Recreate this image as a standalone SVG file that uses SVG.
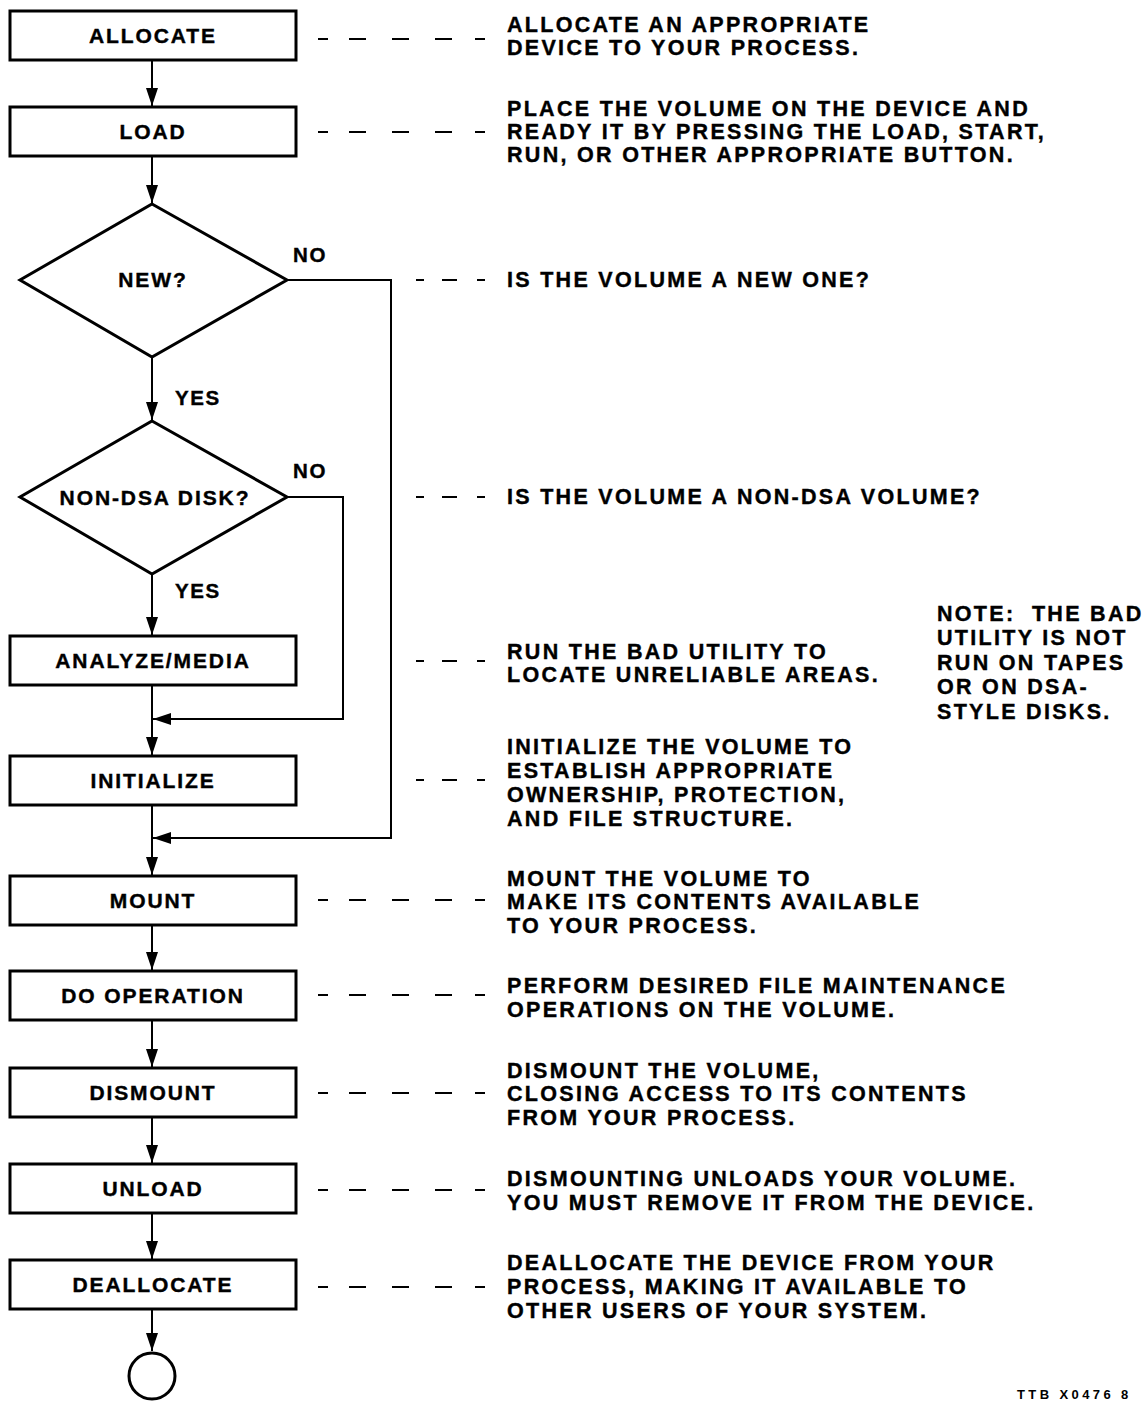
<svg xmlns="http://www.w3.org/2000/svg" width="1144" height="1402" viewBox="0 0 1144 1402">
  <style>
    .box { fill: #fff; stroke: #000; stroke-width: 3; }
    .dia { fill: #fff; stroke: #000; stroke-width: 3; stroke-linejoin: miter; }
    .end { fill: #fff; stroke: #000; stroke-width: 3; }
    .flow { fill: none; stroke: #000; stroke-width: 2; }
    .lead { fill: none; stroke: #000; stroke-width: 2; }
    .long { stroke-dasharray: 10 21 17 26 17 26 17 23 10; }
    .short { stroke-dasharray: 8 18 15 20 8; }
    .lbl { font-family: "Liberation Sans", Arial, sans-serif; font-weight: bold; font-size: 21px; letter-spacing: 1.9px; text-anchor: middle; fill: #000; stroke: #000; stroke-width: 0.4; }
    .side { font-family: "Liberation Sans", Arial, sans-serif; font-weight: bold; font-size: 20.5px; letter-spacing: 1.6px; fill: #000; stroke: #000; stroke-width: 0.4; }
    .desc { font-family: "Liberation Sans", Arial, sans-serif; font-weight: bold; font-size: 21.5px; letter-spacing: 2.3px; fill: #000; stroke: #000; stroke-width: 0.4; }
    .tag { font-family: "Liberation Sans", Arial, sans-serif; font-weight: bold; font-size: 13px; letter-spacing: 3.4px; fill: #000; }
  </style>
  <defs>
    <marker id="arrow" markerUnits="userSpaceOnUse" markerWidth="18" markerHeight="12" refX="18" refY="6" orient="auto">
      <path d="M0,0 L18,6 L0,12 Z" fill="#000"/>
    </marker>
  </defs>
  <rect width="1144" height="1402" fill="#fff"/>

  <!-- flow connectors -->
  <g id="connectors" class="flow">
    <line x1="152" y1="61" x2="152" y2="106" marker-end="url(#arrow)"/>
    <line x1="152" y1="157" x2="152" y2="203" marker-end="url(#arrow)"/>
    <line x1="152" y1="358" x2="152" y2="420" marker-end="url(#arrow)"/>
    <line x1="152" y1="575" x2="152" y2="635" marker-end="url(#arrow)"/>
    <line x1="152" y1="686" x2="152" y2="755" marker-end="url(#arrow)"/>
    <polyline points="287,497 343,497 343,719 153,719" marker-end="url(#arrow)"/>
    <polyline points="287,280 391,280 391,838 153,838" marker-end="url(#arrow)"/>
    <line x1="152" y1="806" x2="152" y2="875" marker-end="url(#arrow)"/>
    <line x1="152" y1="926" x2="152" y2="970" marker-end="url(#arrow)"/>
    <line x1="152" y1="1021" x2="152" y2="1067" marker-end="url(#arrow)"/>
    <line x1="152" y1="1118" x2="152" y2="1163" marker-end="url(#arrow)"/>
    <line x1="152" y1="1214" x2="152" y2="1259" marker-end="url(#arrow)"/>
    <line x1="152" y1="1310" x2="152" y2="1351" marker-end="url(#arrow)"/>
  </g>

  <!-- dashed leaders from steps to their notes -->
  <g id="leaders" class="lead">
    <line class="long" x1="318" y1="39" x2="486" y2="39"/>
    <line class="long" x1="318" y1="132" x2="486" y2="132"/>
    <line class="short" x1="416" y1="280" x2="486" y2="280"/>
    <line class="short" x1="416" y1="497" x2="486" y2="497"/>
    <line class="short" x1="416" y1="661" x2="486" y2="661"/>
    <line class="short" x1="416" y1="780" x2="486" y2="780"/>
    <line class="long" x1="318" y1="900" x2="486" y2="900"/>
    <line class="long" x1="318" y1="995" x2="486" y2="995"/>
    <line class="long" x1="318" y1="1093" x2="486" y2="1093"/>
    <line class="long" x1="318" y1="1190" x2="486" y2="1190"/>
    <line class="long" x1="318" y1="1287" x2="486" y2="1287"/>
  </g>

  <g id="allocate">
    <rect class="box" x="10" y="11" width="286" height="49"/>
    <text class="lbl" x="153" y="43">ALLOCATE</text>
  </g>
  <g id="load">
    <rect class="box" x="10" y="107" width="286" height="49"/>
    <text class="lbl" x="153" y="139">LOAD</text>
  </g>
  <g id="new">
    <polygon class="dia" points="152,204 287,280 152,357 20,280"/>
    <text class="lbl" x="153" y="287">NEW?</text>
    <text class="side" x="293" y="262">NO</text>
    <text class="side" x="175" y="405">YES</text>
  </g>
  <g id="nondsa">
    <polygon class="dia" points="152,421 287,497 152,574 20,497"/>
    <text class="lbl" x="155" y="505">NON-DSA DISK?</text>
    <text class="side" x="293" y="478">NO</text>
    <text class="side" x="175" y="598">YES</text>
  </g>
  <g id="analyze">
    <rect class="box" x="10" y="636" width="286" height="49"/>
    <text class="lbl" x="153" y="668">ANALYZE/MEDIA</text>
  </g>
  <g id="initialize">
    <rect class="box" x="10" y="756" width="286" height="49"/>
    <text class="lbl" x="153" y="788">INITIALIZE</text>
  </g>
  <g id="mount">
    <rect class="box" x="10" y="876" width="286" height="49"/>
    <text class="lbl" x="153" y="908">MOUNT</text>
  </g>
  <g id="dooperation">
    <rect class="box" x="10" y="971" width="286" height="49"/>
    <text class="lbl" x="153" y="1003">DO OPERATION</text>
  </g>
  <g id="dismount">
    <rect class="box" x="10" y="1068" width="286" height="49"/>
    <text class="lbl" x="153" y="1100">DISMOUNT</text>
  </g>
  <g id="unload">
    <rect class="box" x="10" y="1164" width="286" height="49"/>
    <text class="lbl" x="153" y="1196">UNLOAD</text>
  </g>
  <g id="deallocate">
    <rect class="box" x="10" y="1260" width="286" height="49"/>
    <text class="lbl" x="153" y="1292">DEALLOCATE</text>
  </g>
  <g id="stop">
    <circle class="end" cx="152" cy="1376" r="23"/>
  </g>

  <!-- step notes -->
  <g id="notes" class="desc">
    <text x="507" y="32">ALLOCATE AN APPROPRIATE</text>
    <text x="507" y="55">DEVICE TO YOUR PROCESS.</text>

    <text x="507" y="116">PLACE THE VOLUME ON THE DEVICE AND</text>
    <text x="507" y="139">READY IT BY PRESSING THE LOAD, START,</text>
    <text x="507" y="162">RUN, OR OTHER APPROPRIATE BUTTON.</text>

    <text x="507" y="287">IS THE VOLUME A NEW ONE?</text>

    <text x="507" y="504">IS THE VOLUME A NON-DSA VOLUME?</text>

    <text x="507" y="659">RUN THE BAD UTILITY TO</text>
    <text x="507" y="682">LOCATE UNRELIABLE AREAS.</text>

    <text x="507" y="754">INITIALIZE THE VOLUME TO</text>
    <text x="507" y="778">ESTABLISH APPROPRIATE</text>
    <text x="507" y="802">OWNERSHIP, PROTECTION,</text>
    <text x="507" y="826">AND FILE STRUCTURE.</text>

    <text x="507" y="886">MOUNT THE VOLUME TO</text>
    <text x="507" y="909">MAKE ITS CONTENTS AVAILABLE</text>
    <text x="507" y="933">TO YOUR PROCESS.</text>

    <text x="507" y="993">PERFORM DESIRED FILE MAINTENANCE</text>
    <text x="507" y="1017">OPERATIONS ON THE VOLUME.</text>

    <text x="507" y="1078">DISMOUNT THE VOLUME,</text>
    <text x="507" y="1101">CLOSING ACCESS TO ITS CONTENTS</text>
    <text x="507" y="1125">FROM YOUR PROCESS.</text>

    <text x="507" y="1186">DISMOUNTING UNLOADS YOUR VOLUME.</text>
    <text x="507" y="1210">YOU MUST REMOVE IT FROM THE DEVICE.</text>

    <text x="507" y="1270">DEALLOCATE THE DEVICE FROM YOUR</text>
    <text x="507" y="1294">PROCESS, MAKING IT AVAILABLE TO</text>
    <text x="507" y="1318">OTHER USERS OF YOUR SYSTEM.</text>

    <text x="937" y="621">NOTE:&#160; THE BAD</text>
    <text x="937" y="645">UTILITY IS NOT</text>
    <text x="937" y="670">RUN ON TAPES</text>
    <text x="937" y="694">OR ON DSA-</text>
    <text x="937" y="719">STYLE DISKS.</text>
  </g>

  <text class="tag" x="1017" y="1399">TTB X0476 8</text>
</svg>
